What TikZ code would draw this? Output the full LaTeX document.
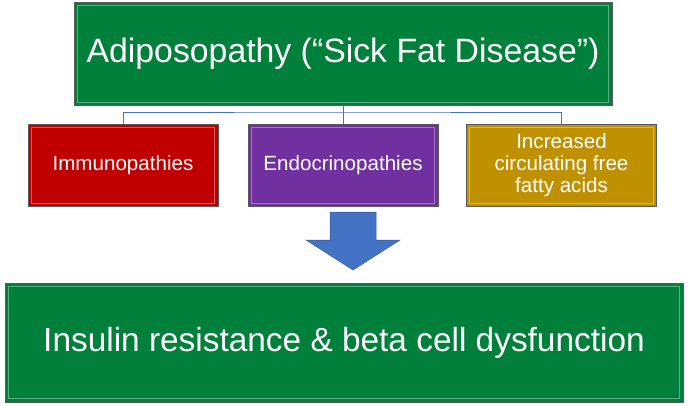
\documentclass[tikz,border=0pt]{standalone}
\usepackage{fontspec}
\setmainfont{Liberation Sans}
\usetikzlibrary{positioning}
\definecolor{myGreen}{RGB}{0, 128, 58}
\definecolor{myRed}{RGB}{192, 0, 0}
\definecolor{myPurple}{RGB}{112, 48, 160}
\definecolor{myGold}{RGB}{191, 144, 0}
\definecolor{myBlue}{RGB}{68, 114, 196}
\definecolor{myBorder}{RGB}{89, 89, 89}
\tikzset{
  kasten/.style = {draw = myBorder, line width = 0.9pt, text = white, align = center, inner sep = 0pt},
  gross/.style = {kasten, font = \fontsize{33.8}{40}\selectfont},
  klein/.style = {kasten, font = \fontsize{20.6}{22}\selectfont, minimum width = 190, minimum height = 82},
  linie/.style = {draw = myBlue, line width = 1pt}
}
\begin{document}
\begin{tikzpicture}[x = 1pt, y = -1pt]   % Pixelkoordinaten
  % Bounding box
  \useasboundingbox (0, 0) rectangle (688, 405);
  % oben
  \node (top) [gross, fill = myGreen, minimum width = 538, minimum height = 103] at (343, 54) {Adiposopathy (“Sick Fat Disease”)};
  % Mitte
  \node (immuno) [klein, fill = myRed] at (123, 165.5) {Immunopathies};
  \node (endo) [klein, fill = myPurple] at (343, 165.5) {Endocrinopathies};
  \node (ffa) [klein, fill = myGold] at (561.5, 165.5) {Increased\\circulating free\\fatty acids};
  % unten
  \node (bottom) [gross, font = \fontsize{33.4}{40}\selectfont, fill = myGreen, minimum width = 678, minimum height = 119] at (344, 342.5) {Insulin resistance \& beta cell dysfunction};
  % Glanzkanten
  \foreach \n/\c in {top/myGreen, immuno/myRed, endo/myPurple, ffa/myGold, bottom/myGreen}
    \draw [draw = \c!40!white, line width = 1pt, opacity = 0.6] ([shift = {(3.5, 3.5)}]\n.north west) rectangle ([shift = {(-3.5, -3.5)}]\n.south east);
  % Verbindungen
  \coordinate (bar) at (343, 112);
  \draw [linie] (top.south) -- (endo.north);
  \draw [linie] (immuno.north) |- (bar) -| (ffa.north);
  % Pfeil
  \filldraw [draw = myBlue!80!black, fill = myBlue, line width = 0.5pt]
    (330, 212) -- (376, 212) -- (376, 240) -- (400, 240) -- (353, 270) -- (306, 240) -- (330, 240) -- cycle;
\end{tikzpicture}
\end{document}
